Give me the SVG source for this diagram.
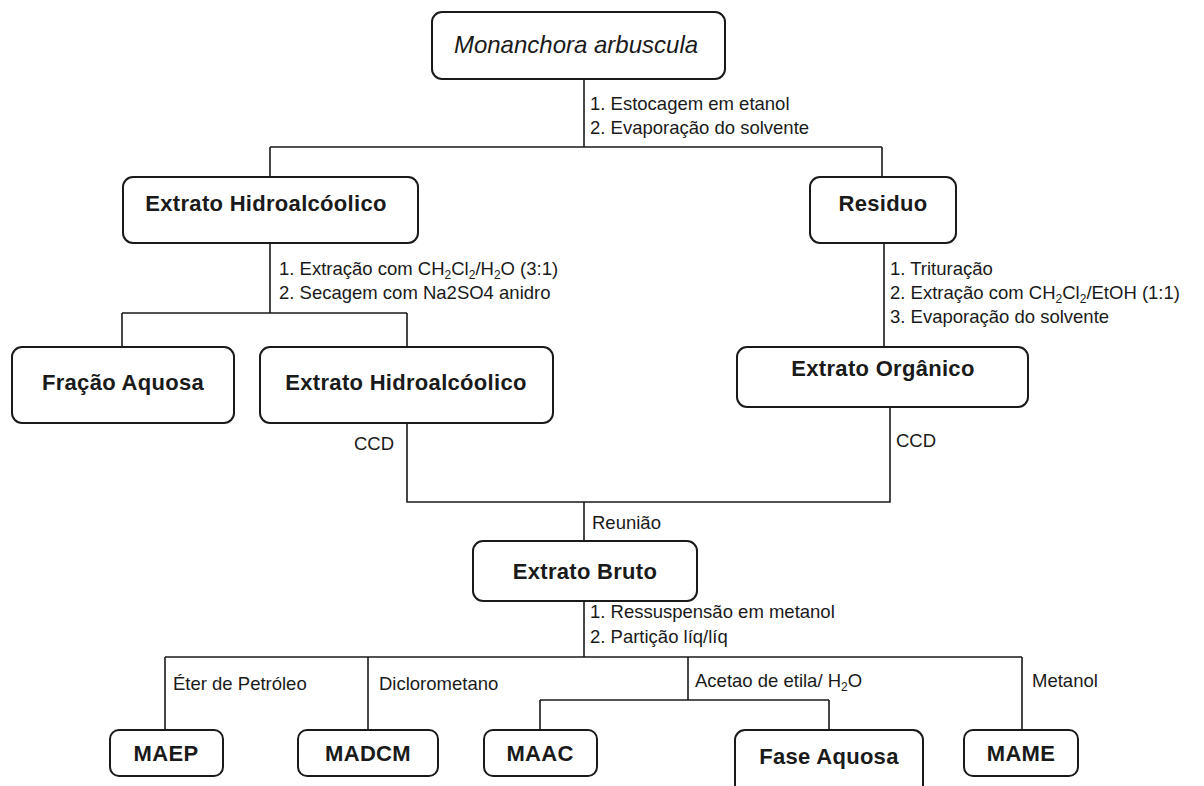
<svg xmlns="http://www.w3.org/2000/svg" width="1204" height="786" viewBox="0 0 1204 786">
<style>
.box{fill:#ffffff;stroke:#1a1a1a;stroke-width:2}
.ln{fill:none;stroke:#1a1a1a;stroke-width:1.6}
.nt{font-family:"Liberation Sans",Arial,sans-serif;font-size:22px;font-weight:bold;fill:#1a1a1a;text-anchor:middle;letter-spacing:0.3px}
.it{font-family:"Liberation Sans",Arial,sans-serif;font-size:24px;font-style:italic;fill:#1a1a1a;text-anchor:middle}
.lb{font-family:"Liberation Sans",Arial,sans-serif;font-size:18.5px;fill:#1a1a1a}
.sub{font-size:12px}
</style>
<rect width="1204" height="786" fill="#ffffff"/>
<g id="connectors">
<path class="ln" d="M584 79V147M270 147H882M270 147V177M882 147V177"/>
<path class="ln" d="M270 243V313M122 313H407M122 313V347M407 313V347"/>
<path class="ln" d="M884 243V347"/>
<path class="ln" d="M407 423V502H890V407"/>
<path class="ln" d="M584 502V541M584 601V657"/>
<path class="ln" d="M165 657H1022M165 657V730M368 657V730M688 657V700M1022 657V730"/>
<path class="ln" d="M540 700H829M540 700V730M829 700V730"/>
</g>
<g id="labels">
<text class="lb" x="590" y="110">1. Estocagem em etanol</text>
<text class="lb" x="590" y="134">2. Evaporação do solvente</text>
<text class="lb" x="279" y="275">1. Extração com CH<tspan class="sub" dy="4">2</tspan><tspan dy="-4">Cl</tspan><tspan class="sub" dy="4">2</tspan><tspan dy="-4">/H</tspan><tspan class="sub" dy="4">2</tspan><tspan dy="-4">O (3:1)</tspan></text>
<text class="lb" x="279" y="299">2. Secagem com Na2SO4 anidro</text>
<text class="lb" x="890" y="275">1. Trituração</text>
<text class="lb" x="890" y="299">2. Extração com CH<tspan class="sub" dy="4">2</tspan><tspan dy="-4">Cl</tspan><tspan class="sub" dy="4">2</tspan><tspan dy="-4">/EtOH (1:1)</tspan></text>
<text class="lb" x="890" y="323">3. Evaporação do solvente</text>
<text class="lb" x="354" y="450">CCD</text>
<text class="lb" x="896" y="447">CCD</text>
<text class="lb" x="592" y="529">Reunião</text>
<text class="lb" x="590" y="618">1. Ressuspensão em metanol</text>
<text class="lb" x="590" y="643">2. Partição líq/líq</text>
<text class="lb" x="173" y="690">Éter de Petróleo</text>
<text class="lb" x="379" y="690">Diclorometano</text>
<text class="lb" x="695" y="687">Acetao de etila/ H<tspan class="sub" dy="4">2</tspan><tspan dy="-4">O</tspan></text>
<text class="lb" x="1032" y="687">Metanol</text>
</g>
<g id="n-monanchora"><rect class="box" x="432" y="12" width="293" height="67" rx="10"/><text class="it" x="576" y="53">Monanchora arbuscula</text></g>
<g id="n-extrato-hidro1"><rect class="box" x="123" y="177" width="295" height="66" rx="10"/><text class="nt" x="266" y="211">Extrato Hidroalcóolico</text></g>
<g id="n-residuo"><rect class="box" x="810" y="177" width="146" height="66" rx="10"/><text class="nt" x="883" y="211">Residuo</text></g>
<g id="n-fracao-aquosa"><rect class="box" x="12" y="347" width="222" height="76" rx="10"/><text class="nt" x="123" y="390">Fração Aquosa</text></g>
<g id="n-extrato-hidro2"><rect class="box" x="260" y="347" width="293" height="76" rx="10"/><text class="nt" x="406" y="390">Extrato Hidroalcóolico</text></g>
<g id="n-extrato-organico"><rect class="box" x="737" y="347" width="291" height="60" rx="10"/><text class="nt" x="883" y="376">Extrato Orgânico</text></g>
<g id="n-extrato-bruto"><rect class="box" x="473" y="541" width="224" height="60" rx="10"/><text class="nt" x="585" y="579">Extrato Bruto</text></g>
<g id="n-maep"><rect class="box" x="110" y="730" width="113" height="46" rx="9"/><text class="nt" x="166" y="761">MAEP</text></g>
<g id="n-madcm"><rect class="box" x="298" y="730" width="140" height="46" rx="9"/><text class="nt" x="368" y="761">MADCM</text></g>
<g id="n-maac"><rect class="box" x="484" y="730" width="113" height="46" rx="9"/><text class="nt" x="540" y="761">MAAC</text></g>
<g id="n-fase-aquosa"><rect class="box" x="735" y="730" width="188" height="70" rx="10"/><text class="nt" x="829" y="764">Fase Aquosa</text></g>
<g id="n-mame"><rect class="box" x="964" y="730" width="114" height="46" rx="9"/><text class="nt" x="1021" y="761">MAME</text></g>
</svg>
